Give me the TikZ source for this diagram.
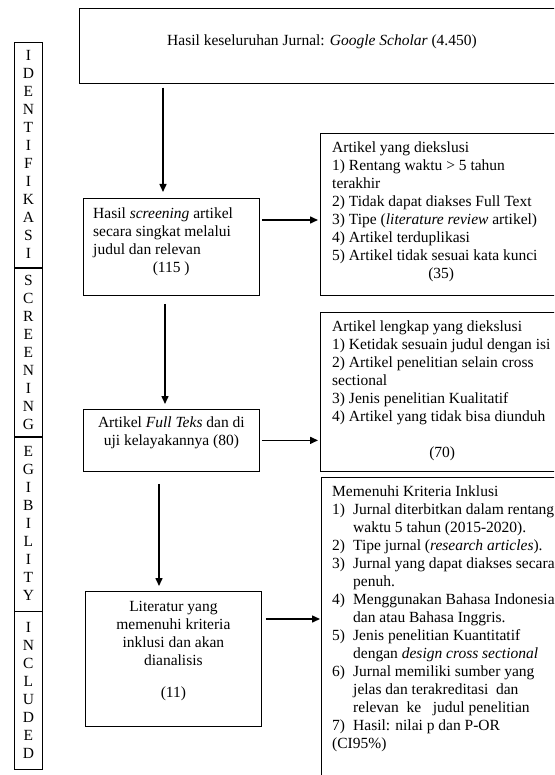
\documentclass[tikz,border=0pt]{standalone}
\usepackage{fontspec}
\setmainfont{Liberation Serif}
\usetikzlibrary{positioning,arrows.meta}

\newcommand\fs{\fontsize{15.5}{18}\selectfont}
\newcommand\nlab[1]{\makebox[21pt][l]{#1}}
\newcommand\nind{\hspace*{21pt}}

\tikzset{
  box/.style={draw, line width=0.75pt, anchor=north west, inner sep=0pt},
  txt/.style={anchor=north west, align=left, inner sep=0pt, font=\fs},
  mid/.style={align=center, inner sep=0pt, font=\fs},
  cell/.style={draw, line width=0.75pt, anchor=north west, inner sep=0pt,
    minimum width=28pt, align=center, font=\fs},
  arr/.style={-{Triangle[length=8pt,width=7pt]}, line width=1.5pt},
}

\begin{document}
\begin{tikzpicture}[x=1pt,y=-1pt]
  \useasboundingbox (0,0) rectangle (554,775);
  \clip (0,0) rectangle (554,775);

  % stage column
  \node[cell, minimum height=225pt] (idn) at (14,42) {I\\D\\E\\N\\T\\I\\F\\I\\K\\A\\S\\I};
  \node[cell, minimum height=168pt] (scn) at (idn.south west) {S\\C\\R\\E\\E\\N\\I\\N\\G};
  \node[cell, minimum height=174pt] (egb) at (scn.south west) {E\\G\\I\\B\\I\\L\\I\\T\\Y};
  \node[cell, minimum height=158pt] (icl) at (egb.south west) {I\\N\\C\\L\\U\\D\\E\\D};

  % main flow
  \node[box, minimum width=600pt, minimum height=75pt] (top) at (79,8) {};
  \node[mid] (toptxt) at ([shift={(243,34)}]top.north west)
    {Hasil keseluruhan Jurnal: \textit{Google Scholar} (4.450)};

  \node[box, minimum width=176pt, minimum height=97pt] (scr) at (83,198) {};
  \node[txt] (scrtxt) at ([shift={(10,10)}]scr.north west)
    {Hasil \textit{screening} artikel\\
     secara singkat melalui\\
     judul dan relevan\\
     \makebox[156pt]{(115 )}};

  \node[box, minimum width=176pt, minimum height=62pt] (ftk) at (83,409) {};
  \node[mid] (ftktxt) at ([shift={(0,24)}]ftk.north)
    {Artikel \textit{Full Teks} dan di\\ uji kelayakannya (80)};

  \node[box, minimum width=176pt, minimum height=135pt] (lit) at (85,591) {};
  \node[mid] (littxt) at ([shift={(0,60)}]lit.north)
    {Literatur yang\\ memenuhi kriteria\\ inklusi dan akan\\ dianalisis\\[14pt] (11)};

  % side boxes
  \node[box, minimum width=300pt, minimum height=162pt] (exc) at (320,133) {};
  \node[txt] (exctxt) at ([shift={(12,9)}]exc.north west)
    {Artikel yang diekslusi\\
     1) Rentang waktu > 5 tahun\\
     terakhir\\
     2) Tidak dapat diakses Full Text\\
     3) Tipe (\textit{literature review} artikel)\\
     4) Artikel terduplikasi\\
     5) Artikel tidak sesuai kata kunci\\
     \makebox[218pt]{(35)}};

  \node[box, minimum width=300pt, minimum height=159pt] (exl) at (320,312) {};
  \node[txt] (exltxt) at ([shift={(12,9)}]exl.north west)
    {Artikel lengkap yang diekslusi\\
     1) Ketidak sesuain judul dengan isi\\
     2) Artikel penelitian selain cross\\
     sectional\\
     3) Jenis penelitian Kualitatif\\
     4) Artikel yang tidak bisa diunduh\\[18pt]
     \makebox[220pt]{(70)}};

  \node[box, minimum width=300pt, minimum height=400pt] (inc) at (321,477) {};
  \node[txt] (inctxt) at ([shift={(11,9)}]inc.north west)
    {Memenuhi Kriteria Inklusi\\
     \nlab{1)}Jurnal diterbitkan dalam rentang\\
     \nind waktu 5 tahun (2015-2020).\\
     \nlab{2)}Tipe jurnal (\textit{research articles}).\\
     \nlab{3)}Jurnal yang dapat diakses secara\\
     \nind penuh.\\
     \nlab{4)}Menggunakan Bahasa Indonesia\\
     \nind dan atau Bahasa Inggris.\\
     \nlab{5)}Jenis penelitian Kuantitatif\\
     \nind dengan \textit{design cross sectional}\\
     \nlab{6)}Jurnal memiliki sumber yang\\
     \nind jelas dan terakreditasi\ \ dan\\
     \nind relevan\ \ ke\ \ \ judul penelitian\\
     \nlab{7)}Hasil: nilai p dan P-OR\\
     (CI95\%)};

  % arrows
  \draw[arr, shorten <=4pt, shorten >=6pt] ([shift={(84,0)}]top.south west) -- ([shift={(84,0)}]top.south west |- scr.north);
  \draw[arr, shorten <=8pt, shorten >=5pt] ([shift={(82,0)}]scr.south west) -- ([shift={(82,0)}]scr.south west |- ftk.north);
  \draw[arr, shorten <=12pt, shorten >=5pt] ([shift={(76,0)}]ftk.south west) -- ([shift={(76,0)}]ftk.south west |- lit.north);
  \draw[arr, shorten <=2pt, shorten >=2pt] ([shift={(0,22)}]scr.north east) -- ([shift={(0,22)}]scr.north east -| exc.west);
  \draw[arr, shorten <=2pt, shorten >=2pt] (ftk.east) -- (ftk.east -| exl.west);
  \draw[arr, shorten <=4pt, shorten >=1pt] ([shift={(0,28)}]lit.north east) -- ([shift={(0,28)}]lit.north east -| inc.west);
\end{tikzpicture}
\end{document}
